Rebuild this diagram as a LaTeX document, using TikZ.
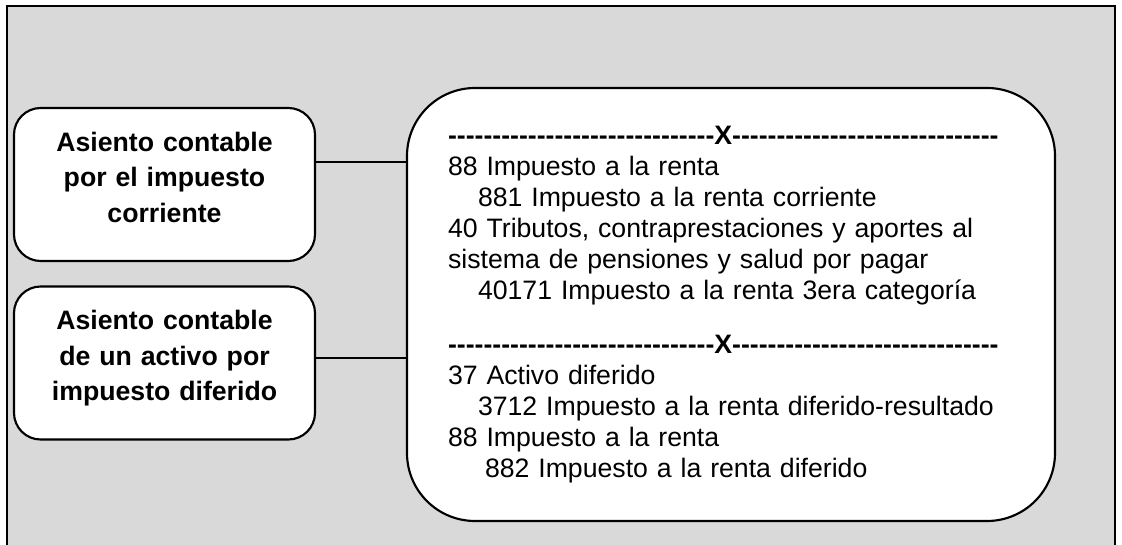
\documentclass[tikz,border=0pt]{standalone}
\usepackage{fontspec}
\setmainfont{Liberation Sans}[Ligatures=TeXOff]
\definecolor{fondo}{RGB}{217,217,217}
\newcommand{\separador}{\textbf{------------------------------X------------------------------}}

\begin{document}
\begin{tikzpicture}[x=0.75pt, y=-0.75pt]
    % Define styles for boxes
    \tikzstyle{box}=[draw, fill=white, line width=1.6pt, rounded corners=20pt]
    \tikzstyle{entry box}=[box, minimum width=225.75pt, minimum height=114.75pt, text width=200pt, align=center, execute at end node={\rule[-11pt]{0pt}{0pt}}, font=\fontsize{20}{26.6}\selectfont\bfseries]
    \tikzstyle{journal box}=[box, rounded corners=51pt, text width=424.5pt, inner xsep=30.75pt, minimum height=324.75pt, align=left, font=\fontsize{20}{23.25}\selectfont]

    % Background frame
    \useasboundingbox (0,0) rectangle (1122,545);
    \fill[fondo] (7,6) rectangle (1115,545);
    \draw[line width=1.5pt] (7,545) -- (7,6) -- (1115,6) -- (1115,545);

    % Entries
    \node[entry box] (A-1) at (164.5,184.5) {Asiento contable\\por el impuesto\\corriente};
    \node[entry box] (A-2) at (164.5,363) {Asiento contable\\de un activo por\\impuesto diferido};

    % Accounts
    \node[journal box] (C) at (731,304.5) {\separador\\
        88 Impuesto a la renta\\
        \hspace*{22.5pt}881 Impuesto a la renta corriente\\
        40 Tributos, contraprestaciones y aportes al\\
        sistema de pensiones y salud por pagar\\
        \hspace*{22.5pt}40171 Impuesto a la renta 3era categoría\\[17.25pt]
        \separador\\
        37 Activo diferido\\
        \hspace*{22.5pt}3712 Impuesto a la renta diferido-resultado\\
        88 Impuesto a la renta\\
        \hspace*{27.75pt}882 Impuesto a la renta diferido};

    % Connections: entries to accounts
    \foreach \i/\dy in {1/16.9pt, 2/3.75pt} {
        \coordinate (P-\i) at ([yshift=\dy]A-\i.east);
        \draw[line width=1.2pt] (P-\i) -- (P-\i -| C.west);
    }

\end{tikzpicture}
\end{document}
